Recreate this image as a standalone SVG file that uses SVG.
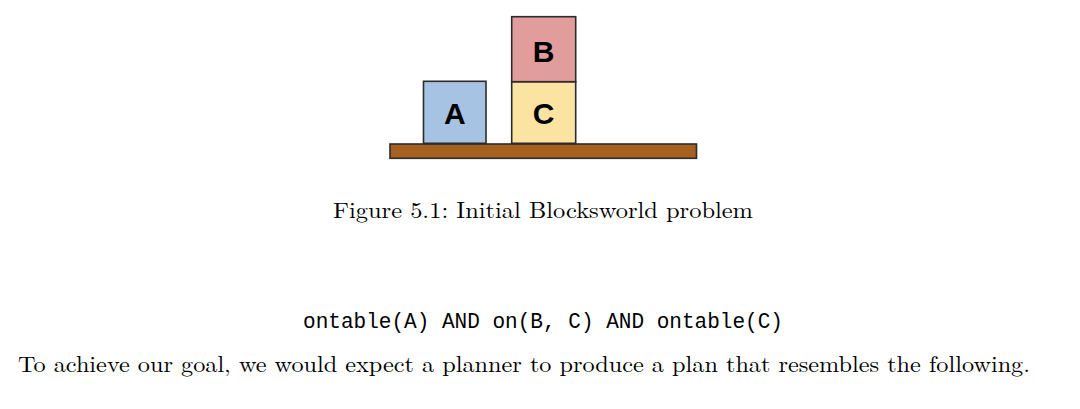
<svg xmlns="http://www.w3.org/2000/svg" width="1080" height="409" viewBox="0 0 1080 409">
<style>
.blk{stroke:#2b2b2b;stroke-width:1.6}
.lbl{font-family:"Liberation Sans",Arial,sans-serif;font-weight:bold;font-size:30px;fill:#000;text-anchor:middle}
.serif{font-family:"Latin Modern Roman","Liberation Serif","DejaVu Serif",serif;font-size:22.5px;fill:#000}
.mono{font-family:"Liberation Mono","DejaVu Sans Mono",monospace;font-size:21.5px;fill:#000}
</style>
<rect width="1080" height="409" fill="#fff"/>
<g id="table"><rect x="390" y="144" width="306.5" height="14.3" fill="#a6601f" stroke="#2b2b2b" stroke-width="1.6"/></g>
<g id="blockA"><rect class="blk" x="423.5" y="81.3" width="62.5" height="62" fill="#a7c3e3"/><text class="lbl" x="454.8" y="124">A</text></g>
<g id="blockC"><rect class="blk" x="511.7" y="81.7" width="64" height="61.6" fill="#fbe4a2"/><text class="lbl" x="543.7" y="123.5">C</text></g>
<g id="blockB"><rect class="blk" x="511.7" y="16.7" width="64" height="65" fill="#e09d9c"/><text class="lbl" x="543.7" y="62">B</text></g>
<text class="serif" x="333" y="218" textLength="420" lengthAdjust="spacingAndGlyphs">Figure 5.1: Initial Blocksworld problem</text>
<text class="mono" x="303" y="328" textLength="480" lengthAdjust="spacingAndGlyphs">ontable(A) AND on(B, C) AND ontable(C)</text>
<text class="serif" x="18" y="372" textLength="1012" lengthAdjust="spacingAndGlyphs">To achieve our goal, we would expect a planner to produce a plan that resembles the following.</text>
</svg>
